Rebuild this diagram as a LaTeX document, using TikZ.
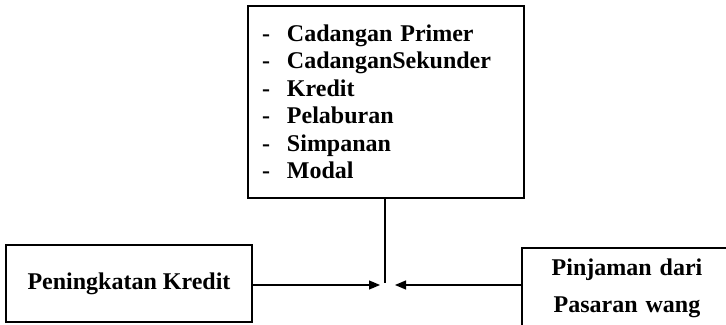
\documentclass[tikz,border=0pt]{standalone}
\usepackage{fontspec}
\setmainfont{Liberation Serif}
\usetikzlibrary{arrows.meta}
\begin{document}
\begin{tikzpicture}[x=0.5pt,y=-0.5pt,
  box/.style={draw, line width=0.6pt, inner sep=0pt, align=center,
    font=\fontsize{12}{18.5}\selectfont\bfseries},
  link/.style={line width=0.6pt},
  flow/.style={link, -{Triangle[length=5.5pt,width=4.5pt]}}]
  \useasboundingbox (0,0) rectangle (726,325);
  \clip (0,0) rectangle (726,325);
  % list of balance-sheet items
  \node[box, minimum width=138pt, minimum height=96pt, text width=124pt,
        inner xsep=7pt, align=left,
        font=\fontsize{12}{13.75}\selectfont\bfseries] (items) at (386,102)
    {\makebox[12.5pt][l]{-}Cadangan Primer\\
     \makebox[12.5pt][l]{-}CadanganSekunder\\
     \makebox[12.5pt][l]{-}Kredit\\
     \makebox[12.5pt][l]{-}Pelaburan\\
     \makebox[12.5pt][l]{-}Simpanan\\
     \makebox[12.5pt][l]{-}Modal};
  % side inputs
  \node[box, minimum width=123pt, minimum height=38.5pt] (credit) at (129,283.5)
    {Peningkatan Kredit};
  % wide box running off the right edge; text centred in its left part
  \node[box, text width=125pt, align=left, minimum height=40.5pt] (loan)
    at (647,288.5)
    {\parbox{105pt}{\centering Pinjaman dari\\ Pasaran wang}};
  % meeting point
  \coordinate (join) at (385,283);
  \coordinate (tipL) at (380,285);
  \coordinate (tipR) at (395,285);
  \draw[link] (items.south -| join) -- (join);
  \draw[flow] (credit.east |- tipL) -- (tipL);
  \draw[flow] (loan.west |- tipR) -- (tipR);
\end{tikzpicture}
\end{document}
